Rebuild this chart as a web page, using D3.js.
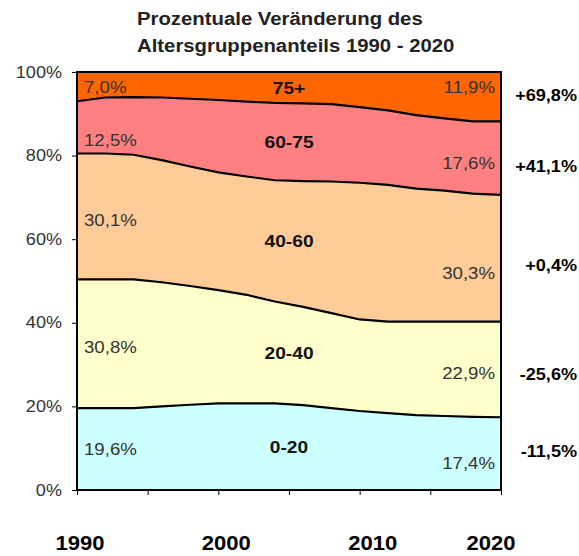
<!DOCTYPE html>
<html>
<head>
<meta charset="utf-8">
<title>Altersgruppenanteile 1990 - 2020</title>
<script src="https://d3js.org/d3.v7.min.js"></script>
<style>
body { margin: 0; background: #fff; }
text { font-family: "Liberation Sans", Arial, sans-serif; }
</style>
</head>
<body>
<div id="chart"></div>
<script>

// values (share of each age group in %)
var years   = [1990, 1992, 1994, 1996, 1998, 2000, 2002, 2004, 2006, 2008, 2010, 2012, 2014, 2016, 2018, 2020];
var groups  = ["0-20", "20-40", "40-60", "60-75", "75+"];
var age0_20  = [19.6, 19.6, 19.6, 20.0, 20.4, 20.7, 20.7, 20.7, 20.3, 19.6, 18.9, 18.4, 17.9, 17.7, 17.5, 17.4];
var age20_40 = [30.8, 30.8, 30.8, 29.7, 28.4, 27.1, 26.0, 24.4, 23.5, 22.7, 21.9, 21.9, 22.4, 22.6, 22.8, 22.9];
var age40_60 = [30.1, 30.1, 29.8, 29.2, 28.6, 28.2, 28.3, 29.0, 30.1, 31.5, 32.7, 32.7, 31.8, 31.3, 30.6, 30.3];
var age60_75 = [12.5, 13.4, 13.8, 15.0, 16.2, 17.3, 17.9, 18.5, 18.6, 18.5, 18.1, 17.8, 17.6, 17.3, 17.3, 17.6];
var age75    = [7.0, 6.1, 6.0, 6.1, 6.4, 6.7, 7.1, 7.4, 7.5, 7.7, 8.4, 9.2, 10.3, 11.1, 11.8, 11.9];
var changes  = ["-11,5%", "-25,6%", "+0,4%", "+41,1%", "+69,8%"];
var yTicks   = [0, 20, 40, 60, 80, 100];
var xTicks   = [1990, 1995, 2000, 2005, 2010, 2015, 2020];
var yearLabels = [1990, 2000, 2010, 2020];
var titleLines = ["Prozentuale Veränderung des", "Altersgruppenanteils 1990 - 2020"];

var colors = ["#ccffff", "#ffffcc", "#ffcc99", "#ff8080", "#ff6600"];

// label offsets (layout only)
var leftDy   = [6, 9, 9.6, 18.6, 6];
var rightDy  = [15.4, 9.6, 21, 11, -3];
var changeDy = [3, 10.6, 12.5, 13.6, 4.3];
var yearDx   = [3, 8, 13, -10];

var W = 579, H = 556;
var pLeft = 77, pRight = 501, pTop = 72, pBottom = 490;
var SX = 1.13; // the reference text is a bit wide

var series = [age0_20, age20_40, age40_60, age60_75, age75];
var rows = years.map(function(yr, i) {
	var r = { year: yr };
	groups.forEach(function(g, k) { r[g] = series[k][i]; });
	return r;
});
var stacked = d3.stack().keys(groups)(rows);

var x = d3.scaleLinear().domain([1990, 2020]).range([pLeft, pRight]);
var y = d3.scaleLinear().domain([0, 100]).range([pBottom, pTop]);

var svg = d3.select("#chart").append("svg")
	.attr("width", W)
	.attr("height", H);

svg.append("clipPath").attr("id", "plot")
	.append("rect")
	.attr("x", pLeft).attr("y", pTop)
	.attr("width", pRight - pLeft).attr("height", pBottom - pTop);

var plot = svg.append("g").attr("clip-path", "url(#plot)");

var area = d3.area()
	.x(function(d) { return x(d.data.year); })
	.y0(function(d) { return y(d[0]); })
	.y1(function(d) { return y(d[1]); });

var line = d3.line()
	.x(function(d) { return x(d.data.year); })
	.y(function(d) { return y(d[1]); });

plot.selectAll("path.band")
	.data(stacked).enter().append("path")
	.attr("class", "band")
	.attr("fill", function(d, i) { return colors[i]; })
	.attr("d", area);

plot.selectAll("path.edge")
	.data(stacked.slice(0, 4)).enter().append("path")
	.attr("class", "edge")
	.attr("fill", "none")
	.attr("stroke", "#000")
	.attr("stroke-width", 2.2)
	.attr("d", line);

// axes
var yAxis = svg.append("g")
	.attr("transform", "translate(" + pLeft + ",0)")
	.call(d3.axisLeft(y).tickValues(yTicks).tickSize(5).tickFormat(function(d) { return d + "%"; }));
yAxis.select(".domain").remove();
yAxis.selectAll("line").attr("stroke", "#000");
yAxis.selectAll("text")
	.attr("x", 0)
	.attr("fill", "#333")
	.style("font-size", "16px")
	.attr("transform", "translate(-15,0) scale(" + SX + ",1)");

var xAxis = svg.append("g")
	.attr("transform", "translate(0," + pBottom + ")")
	.call(d3.axisBottom(x).tickValues(xTicks).tickSize(5).tickFormat(""));
xAxis.select(".domain").remove();
xAxis.selectAll("line").attr("stroke", "#000");

svg.append("rect")
	.attr("x", pLeft).attr("y", pTop)
	.attr("width", pRight - pLeft).attr("height", pBottom - pTop)
	.attr("fill", "none")
	.attr("stroke", "#000")
	.attr("stroke-width", 2);

function label(px, py, txt, size, weight, anchor, fill, sx) {
	return svg.append("text")
		.attr("transform", "translate(" + px + "," + py + ") scale(" + (sx || SX) + ",1)")
		.attr("text-anchor", anchor)
		.attr("fill", fill)
		.style("font-size", size + "px")
		.style("font-weight", weight)
		.text(txt);
}

var fmt = function(v) { return d3.format(".1f")(v).replace(".", ",") + "%"; };
var last = years.length - 1;
var mid = years.indexOf(2004);

stacked.forEach(function(s, i) {
	var a = s[0], b = s[last], c = s[mid];
	label(x(1990) + 7, y((a[0] + a[1]) / 2) + leftDy[i], fmt(series[i][0]), 16.5, "normal", "start", "#333");
	label(x(2020) - 6, y((b[0] + b[1]) / 2) + rightDy[i], fmt(series[i][last]), 16.5, "normal", "end", "#333");
	label(x(2005), y((c[0] + c[1]) / 2) + 6.5, groups[i], 17, "bold", "middle", "#111");
	label(x(2020) + 76, y((b[0] + b[1]) / 2) + changeDy[i], changes[i], 16, "bold", "end", "#000");
});

yearLabels.forEach(function(yr, i) {
	label(x(yr) + yearDx[i], 550, yr, 21, "bold", "middle", "#000", 1.05);
});

titleLines.forEach(function(t, i) {
	label(137, 25 + i * 27, t, 18, "bold", "start", "#222");
});

</script>
</body>
</html>
